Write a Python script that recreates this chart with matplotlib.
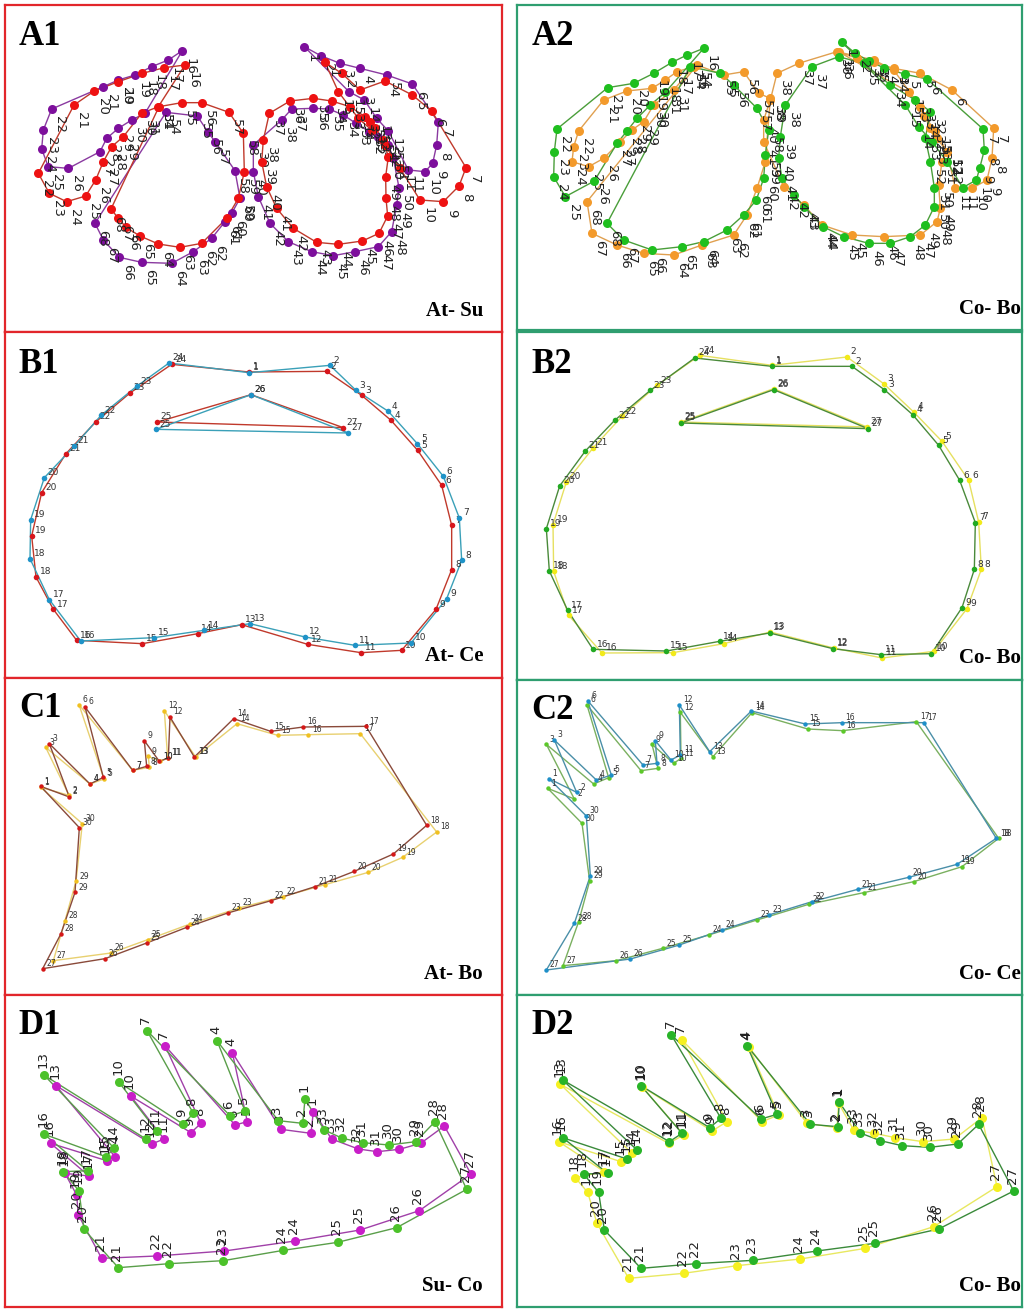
import matplotlib
matplotlib.use("Agg")
import matplotlib.pyplot as plt

# landmark coordinates, in each panel's own units
# (3x pixel grid of the panel, y measured downwards)

A1_PURPLE = [(898,125),(947,152),(1005,175),(1065,190),(1145,210),(1222,237),(1300,352),(1295,420),
             (1283,475),(1260,500),(1210,495),(1150,378),(1115,340),(1078,285),(1032,260),
             (532,137),(490,165),(440,185),(390,210),(340,225),(295,245),(140,312),(115,375),
             (110,432),(130,485),(190,490),(285,440),(305,400),(340,370),(380,345),(420,325),
             (1093,380),(1053,355),(1015,330),(972,312),(925,310),(860,312),(830,345),(745,420),
             (745,500),(760,575),(795,655),(850,710),(920,740),(985,752),(1050,740),(1120,725),
             (1160,680),(1175,600),(1182,548),(1165,460),(1150,420),(1120,395),
             (483,322),(577,333),(608,380),(630,410),(690,497),(705,580),(680,625),(660,650),
             (620,700),(565,740),(500,775),(410,772),(343,757),(295,705),(270,655)]
A1_RED = [(960,172),(1010,205),(1065,255),(1140,228),(1222,270),(1280,318),(1383,488),(1362,543),
          (1315,590),(1245,585),(1185,490),(1140,420),(1100,375),(1060,340),(1000,260),
          (540,180),(478,188),(412,205),(340,230),(268,258),(207,300),(100,505),(133,565),
          (185,590),(242,573),(272,525),(295,470),(320,425),(355,395),(410,325),(460,305),
          (1080,335),(1035,305),(980,288),(925,280),(855,288),(793,325),(775,405),(770,470),
          (785,545),(815,610),(865,670),(935,712),(1000,718),(1072,708),(1122,685),(1148,633),
          (1143,580),(1142,515),(1150,455),(1135,405),(1110,370),(1095,350),
          (462,305),(530,293),(590,293),(672,322),(715,385),(718,500),(700,580),(665,640),
          (590,715),(525,727),(460,717),(405,693),(363,667),(340,640),(318,612)]

A2_GREEN = [(975,112),(1015,145),(1055,168),(1100,188),(1165,208),(1230,222),(1398,372),(1402,435),
            (1388,490),(1378,525),(1337,548),(1290,470),(1245,410),(1205,365),(1165,300),
            (560,130),(510,150),(465,172),(410,205),(350,235),(272,248),(120,372),(112,440),
            (110,515),(145,575),(232,528),(300,415),(330,378),(360,340),(400,300),(445,262),
            (1240,320),(1195,285),(1120,240),(1040,175),(965,155),(885,185),(805,300),(790,395),
            (785,460),(795,520),(830,570),(862,605),(918,665),(980,695),(1055,715),(1120,715),
            (1180,695),(1225,660),(1252,605),(1252,548),(1240,470),(1225,400),
            (520,185),(610,205),(650,240),(720,310),(755,375),(745,450),(740,520),(718,585),
            (680,630),(630,675),(560,710),(495,725),(405,735),(320,705),(270,655)]
A2_ORANGE = [(965,140),(1020,160),(1070,172),(1130,190),(1210,205),(1305,255),(1430,370),(1425,460),
             (1410,525),(1365,550),(1315,550),(1290,440),(1255,378),(1222,332),(1175,262),
             (530,185),(480,200),(445,225),(405,250),(330,258),(260,285),(185,378),(170,425),
             (165,470),(215,485),(260,460),(310,410),(345,375),(380,350),(410,300),(470,255),
             (1240,370),(1210,305),(1130,195),(1070,165),(960,140),(845,175),(780,205),(760,285),
             (740,345),(740,410),(800,545),(860,600),(915,660),(1005,690),(1100,695),(1210,690),
             (1260,650),(1270,610),(1265,540),(1275,470),(1290,440),(1260,400),
             (540,180),(620,210),(680,200),(725,265),(760,280),(745,470),(720,550),(690,630),
             (650,690),(555,720),(470,750),(380,745),(300,720),(225,685),(210,590)]

B1_BLUE = [(732,122),(975,100),(1053,175),(1150,238),(1237,335),(1315,433),(1363,558),(1370,685),
           (1325,800),(1218,933),(1050,940),(900,915),(735,875),(597,895),(447,917),(227,927),
           (133,803),(75,680),(77,563),(118,437),(208,342),(288,250),(395,163),(492,93),
           (453,292),(738,188),(1030,303)]
B1_RED = [(732,120),(965,118),(1070,190),(1158,265),(1238,355),(1310,460),(1340,580),(1340,713),
          (1293,832),(1190,955),(1068,962),(908,937),(710,878),(578,905),(412,935),(215,925),
          (145,832),(93,735),(80,612),(110,482),(182,366),(272,270),(375,183),(500,97),
          (457,270),(738,188),(1015,287)]

B2_YELLOW = [(765,100),(990,75),(1100,155),(1190,240),(1275,328),(1355,445),(1385,570),(1393,712),
             (1350,830),(1250,958),(1095,978),(950,948),(760,900),(620,935),(468,962),(255,963),
             (155,850),(110,718),(108,578),(148,450),(228,348),(315,253),(420,160),(548,70),
             (492,270),(770,170),(1050,285)]
B2_GREEN = [(765,103),(1005,103),(1102,173),(1187,248),(1265,340),(1328,445),(1375,572),(1372,712),
            (1335,827),(1243,965),(1092,968),(948,950),(758,903),(608,928),(448,957),(228,952),
            (152,835),(97,717),(88,590),(128,462),(205,357),(293,265),(400,175),(533,78),
            (492,273),(770,173),(1053,290)]

C1_YELLOW = [(107,328),(192,352),(122,208),(255,318),(297,303),(222,80),(383,277),(433,268),
             (430,235),(465,250),(488,240),(478,98),(572,237),(696,137),(818,172),(910,170),
             (1066,167),(1295,462),(1193,538),(1090,583),(960,620),(833,656),(702,690),(555,738),
             (428,785),(318,825),(145,848),(180,728),(213,610),(232,437)]
C1_RED = [(107,325),(193,357),(133,197),(255,318),(295,298),(240,87),(383,277),(425,265),
          (418,188),(463,250),(490,240),(495,117),(568,237),(686,122),(797,160),(895,147),
          (1083,145),(1265,442),(1165,528),(1048,580),(930,626),(798,668),(668,705),(545,748),
          (425,795),(300,842),(113,872),(168,767),(210,643),(223,449)]

C2_GREEN = [(92,325),(172,357),(88,193),(230,312),(275,293),(210,75),(372,272),(423,265),
            (405,193),(470,250),(492,235),(490,97),(588,230),(705,98),(872,147),(977,152),
            (1198,125),(1445,475),(1335,560),(1190,605),(1040,638),(875,673),(720,720),(575,765),
            (437,805),(298,842),(138,857),(185,725),(218,603),(195,430)]
C2_BLUE = [(96,296),(179,337),(112,180),(238,300),(283,285),(212,62),(378,255),(420,250),
           (415,182),(462,240),(490,225),(487,75),(578,215),(703,93),(865,132),(975,128),
           (1220,128),(1438,475),(1320,553),(1175,592),(1022,628),(885,665),(755,705),(615,750),
           (487,795),(340,837),(88,870),(172,730),(220,587),(208,408)]

D1_MAGENTA = [(925,350),(918,415),(828,403),(682,173),(727,380),(690,390),(480,152),(588,385),
              (558,413),(377,303),(477,432),(440,447),(153,272),(330,485),(305,497),(137,445),
              (252,543),(180,535),(215,600),(220,660),(290,790),(455,783),(658,768),(870,738),
              (1065,705),(1243,647),(1398,537),(1318,393),(1247,445),(1183,463),(1117,470),
              (1060,462),(980,432)]
D1_GREEN = [(900,313),(893,385),(820,377),(636,137),(720,348),(676,363),(426,107),(565,355),
            (535,388),(342,262),(455,408),(423,432),(118,241),(328,460),(302,485),(118,418),
            (248,527),(175,530),(222,588),(237,703),(340,818),(493,806),(655,797),(835,766),
            (998,742),(1175,698),(1385,583),(1290,380),(1232,440),(1152,450),(1073,443),
            (1012,430),(958,405)]

D2_YELLOW = [(965,325),(960,398),(870,385),(695,155),(785,360),(735,380),(495,135),(630,380),
             (585,408),(375,275),(500,420),(455,445),(130,268),(345,475),(312,500),(125,440),
             (262,530),(175,548),(212,592),(240,685),(335,850),(500,835),(660,812),(850,792),
             (1045,760),(1250,695),(1440,575),(1395,368),(1312,432),(1218,440),(1135,428),
             (1072,415),(1010,405)]
D2_GREEN = [(967,322),(962,395),(880,388),(690,152),(780,358),(732,372),(463,120),(612,370),
            (578,398),(372,272),(495,415),(457,440),(137,255),(360,465),(330,492),(137,428),
            (272,535),(200,537),(245,592),(262,705),(372,820),(537,806),(708,796),(900,768),
            (1073,745),(1265,702),(1490,588),(1385,388),(1322,447),(1238,457),(1155,452),
            (1090,437),(1030,414)]

PANEL_NAMES = ['A1', 'A2', 'B1', 'B2', 'C1', 'C2', 'D1', 'D2']
PAIR_NAMES = ['At- Su', 'Co- Bo', 'At- Ce', 'Co- Bo', 'At- Bo', 'Co- Ce', 'Su- Co', 'Co- Bo']

RED_BOX = '#e2262b'
GREEN_BOX = '#2f9e70'
W, H = 1024, 1309


def closed_loops(pts, groups, color, lw):
    for a, b in groups:
        seg = pts[a - 1:b] + [pts[a - 1]]
        ax_ = plt.gca()
        ax_.plot([p[0] for p in seg], [p[1] for p in seg], color=color, lw=lw, zorder=2)


def draw(ax, series, groups, ms, fs, style):
    plt.sca(ax)
    for pts, col, lcol in series:
        closed_loops(pts, groups, lcol, 1.0)
        ax.plot([p[0] for p in pts], [p[1] for p in pts], 'o', color=col, ms=ms,
                mec='none', zorder=3)
        for i, (x, y) in enumerate(pts, start=1):
            if style == 'down':
                ax.annotate(str(i), (x, y), xytext=(1, -5), textcoords='offset points',
                            rotation=270, ha='left', va='top', fontsize=fs, color='#222222')
            elif style == 'up':
                ax.annotate(str(i), (x, y), xytext=(-1, 5), textcoords='offset points',
                            rotation=90, ha='center', va='bottom', fontsize=fs, color='#222222')
            else:
                ax.annotate(str(i), (x, y), xytext=(2.5, 0.5), textcoords='offset points',
                            ha='left', va='bottom', fontsize=fs, color='#333333')


fig = plt.figure(figsize=(W / 100, H / 100), dpi=100)

rects = [(5, 5, 497, 327), (517, 5, 505, 325), (5, 332, 497, 346), (517, 332, 505, 348),
         (5, 678, 497, 317), (517, 680, 505, 315), (5, 995, 497, 312), (517, 995, 505, 312)]

A_GROUPS = [(1, 15), (16, 31), (32, 53), (54, 68)]
B_GROUPS = [(1, 24), (25, 27)]
C_GROUPS = [(1, 30)]
D_GROUPS = [(1, 33)]

panels = [
    ([(A1_PURPLE, '#7d0f9c', '#8a3aa0'), (A1_RED, '#ee1212', '#c0392b')], A_GROUPS, 6.5, 9.5, 'down'),
    ([(A2_ORANGE, '#f39a2b', '#e0a050'), (A2_GREEN, '#1fbf1f', '#4a9e3a')], A_GROUPS, 6.5, 9.5, 'down'),
    ([(B1_RED, '#d7161c', '#c0392b'), (B1_BLUE, '#1f93c8', '#3aa0b8')], B_GROUPS, 4, 6.5, 'right'),
    ([(B2_YELLOW, '#f2ea1a', '#e6e060'), (B2_GREEN, '#22aa22', '#4a8a3a')], B_GROUPS, 4, 6.5, 'right'),
    ([(C1_YELLOW, '#f0c020', '#e8d070'), (C1_RED, '#d41818', '#8a4a3a')], C_GROUPS, 3.2, 5.5, 'right'),
    ([(C2_GREEN, '#5cc82a', '#7ab060'), (C2_BLUE, '#1e8fc8', '#4a8fa8')], C_GROUPS, 3.2, 5.5, 'right'),
    ([(D1_MAGENTA, '#c81ec8', '#a040a8'), (D1_GREEN, '#4cc22a', '#5a9e4a')], D_GROUPS, 6.5, 9.5, 'up'),
    ([(D2_YELLOW, '#f5f020', '#e8e860'), (D2_GREEN, '#28b428', '#3a8a3a')], D_GROUPS, 6.5, 9.5, 'up'),
]

for k, ((x0, y0, w, h), (series, groups, ms, fs, style)) in enumerate(zip(rects, panels)):
    ax = fig.add_axes([x0 / W, 1 - (y0 + h) / H, w / W, h / H])
    ax.set_xlim(0, 3 * w)
    ax.set_ylim(3 * h, 0)
    ax.set_xticks([])
    ax.set_yticks([])
    box = RED_BOX if k % 2 == 0 else GREEN_BOX
    for s in ax.spines.values():
        s.set_color(box)
        s.set_linewidth(1.6)
    draw(ax, series, groups, ms, fs, style)
    ax.text(0.028, 0.955, PANEL_NAMES[k], transform=ax.transAxes, fontsize=25,
            fontweight='bold', family='Liberation Serif', ha='left', va='top')
    rx = 0.962 if k % 2 == 0 else 0.997
    ax.text(rx, 0.035, PAIR_NAMES[k], transform=ax.transAxes, fontsize=15,
            fontweight='bold', family='Liberation Serif', ha='right', va='bottom')

fig.savefig('out.png', dpi=100)
